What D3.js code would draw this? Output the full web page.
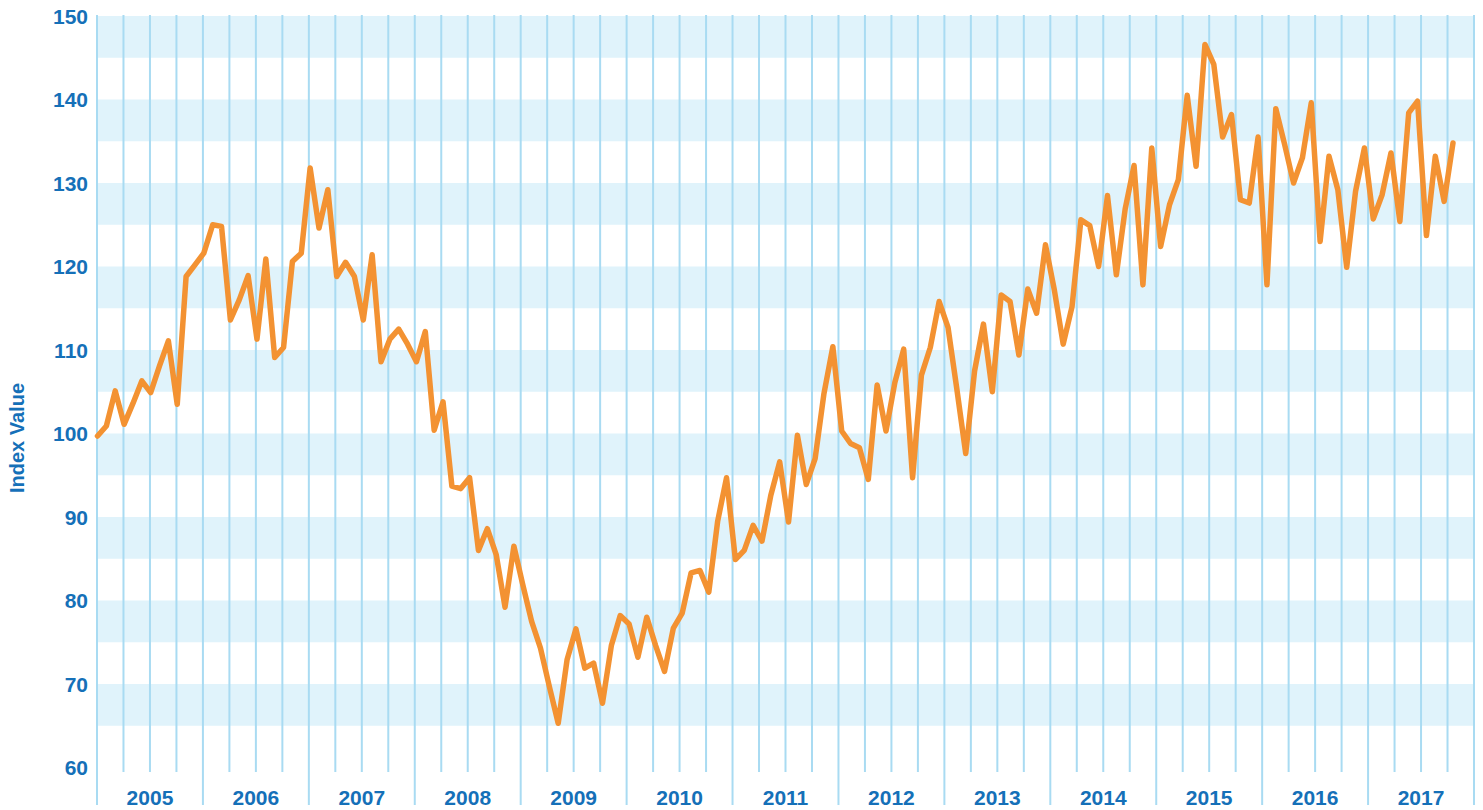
<!DOCTYPE html>
<html>
<head>
<meta charset="utf-8">
<script src="https://cdn.jsdelivr.net/npm/d3@7"></script>
<style>
  body { margin: 0; background: #fff; }
  text { font-family: "Liberation Sans", Arial, Helvetica, sans-serif; font-weight: bold; }
</style>
</head>
<body>
<div id="chart"></div>
<script>
// monthly index values, Jan 2005 .. Oct 2017
const startYear = 2005;
const indexValues = [
  99.7, 100.9, 105.1, 101.1, 103.6, 106.3, 104.9, 108.1, 111.1, 103.5, 118.8, 120.2,
  121.6, 125.0, 124.8, 113.6, 116.0, 118.9, 111.3, 120.9, 109.1, 110.3, 120.6, 121.6,
  131.8, 124.6, 129.2, 118.8, 120.5, 118.8, 113.6, 121.4, 108.6, 111.3, 112.5, 110.7,
  108.6, 112.2, 100.4, 103.8, 93.7, 93.4, 94.7, 86.0, 88.6, 85.5, 79.2, 86.5,
  81.9, 77.5, 74.3, 69.7, 65.3, 72.9, 76.6, 71.9, 72.5, 67.7, 74.6, 78.2,
  77.2, 73.2, 78.0, 74.6, 71.5, 76.7, 78.5, 83.3, 83.6, 81.0, 89.5, 94.7,
  84.9, 86.0, 89.0, 87.1, 92.6, 96.6, 89.4, 99.8, 93.9, 97.0, 104.8, 110.4,
  100.3, 98.8, 98.3, 94.5, 105.8, 100.3, 106.1, 110.1, 94.7, 107.0, 110.3, 115.8,
  112.7, 105.3, 97.6, 107.5, 113.1, 105.0, 116.6, 115.8, 109.4, 117.3, 114.4, 122.6,
  117.2, 110.7, 115.2, 125.6, 124.9, 120.0, 128.5, 119.0, 126.9, 132.1, 117.8, 134.2,
  122.4, 127.4, 130.4, 140.5, 132.0, 146.6, 144.2, 135.5, 138.2, 128.0, 127.6, 135.5,
  117.8, 138.9, 134.6, 130.0, 133.0, 139.6, 123.0, 133.2, 129.2, 119.9, 129.0, 134.2,
  125.7, 128.6, 133.6, 125.4, 138.4, 139.8, 123.7, 133.2, 127.8, 134.8
];
const yearLabels = ['2005','2006','2007','2008','2009','2010','2011','2012','2013','2014','2015','2016','2017'];
const yTicks = [60, 70, 80, 90, 100, 110, 120, 130, 140, 150];
const bandStarts = [65, 75, 85, 95, 105, 115, 125, 135, 145]; // shaded 5-point bands

const width = 1483, height = 810;
const blue = '#1570b8';
const gridColor = '#a9dbf2';
const bandColor = '#e0f3fb';

const svg = d3.select('#chart')
  .append('svg')
  .attr('width', width)
  .attr('height', height);

const x = d3.scaleLinear().domain([startYear, startYear + yearLabels.length]).range([97, 1474]);
const xm = d3.scaleLinear().domain([0, indexValues.length - 1]).range([97.5, 1453]);
const y = d3.scaleLinear().domain([60, 150]).range([767.5, 16]);

// horizontal bands
svg.append('g')
  .selectAll('rect')
  .data(bandStarts)
  .join('rect')
  .attr('x', x.range()[0])
  .attr('width', x.range()[1] - x.range()[0])
  .attr('y', d => y(d + 5))
  .attr('height', d => y(d) - y(d + 5))
  .attr('fill', bandColor);

// quarterly vertical lines, year boundaries run longer
const quarters = d3.range(0, yearLabels.length * 4 + 1).map(q => startYear + q / 4);
svg.append('g')
  .selectAll('line')
  .data(quarters)
  .join('line')
  .attr('x1', d => x(d))
  .attr('x2', d => x(d))
  .attr('y1', y(150) - 1)
  .attr('y2', d => Number.isInteger(d) ? 805 : 772)
  .attr('stroke', gridColor)
  .attr('stroke-width', 2);

// y tick labels
svg.append('g')
  .selectAll('text')
  .data(yTicks)
  .join('text')
  .attr('x', 88)
  .attr('y', d => y(d))
  .attr('dy', '0.36em')
  .attr('text-anchor', 'end')
  .attr('fill', blue)
  .style('font-size', '21px')
  .text(d => d);

// year labels
svg.append('g')
  .selectAll('text')
  .data(yearLabels)
  .join('text')
  .attr('x', (d, i) => x(startYear + i + 0.5))
  .attr('y', 805)
  .attr('text-anchor', 'middle')
  .attr('fill', blue)
  .style('font-size', '21px')
  .text(d => d);

svg.append('text')
  .attr('transform', 'translate(24, 438) rotate(-90)')
  .attr('text-anchor', 'middle')
  .attr('fill', blue)
  .style('font-size', '20px')
  .text('Index Value');

const line = d3.line()
  .x((d, i) => xm(i))
  .y(d => y(d));

svg.append('path')
  .datum(indexValues)
  .attr('d', line)
  .attr('fill', 'none')
  .attr('stroke', '#f39232')
  .attr('stroke-width', 5.5)
  .attr('stroke-linejoin', 'round')
  .attr('stroke-linecap', 'round');
</script>
</body>
</html>
